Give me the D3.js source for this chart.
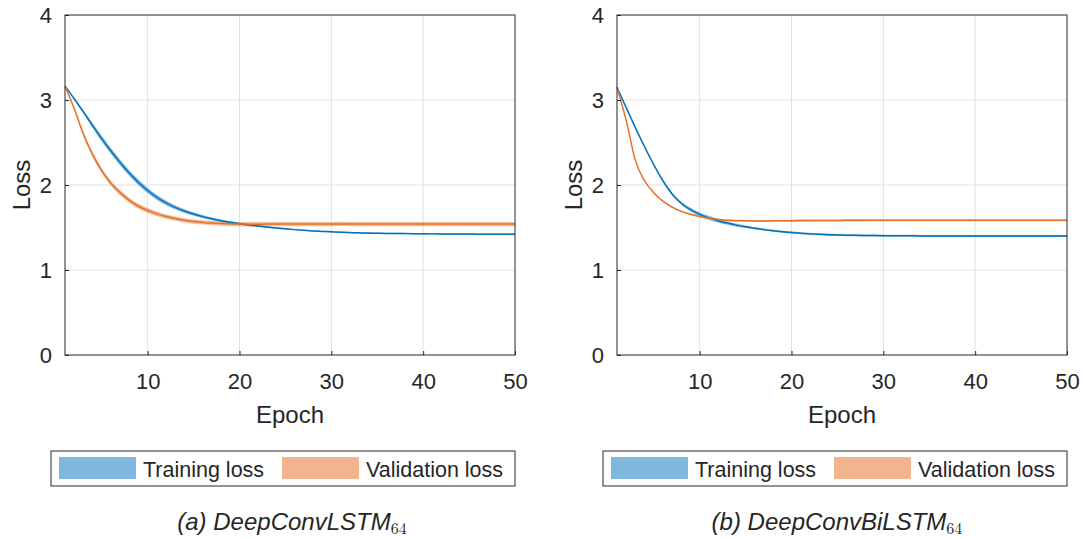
<!DOCTYPE html>
<html>
<head>
<meta charset="utf-8">
<script src="https://cdn.jsdelivr.net/npm/d3@7"></script>
<style>
  html, body { margin: 0; padding: 0; background: #fff; }
  svg { display: block; }
  text { font-family: "Liberation Sans", Arial, Helvetica, sans-serif; fill: #262626; }
</style>
</head>
<body>
<svg id="chart" width="1085" height="539"></svg>
<script>
// Loss curves (mean) and their spread, per epoch 1..50
const epochs = d3.range(1, 51);

const lstmTrain = [3.165, 3.015, 2.86, 2.70, 2.545, 2.40, 2.265, 2.14, 2.03, 1.935,
  1.855, 1.79, 1.737, 1.694, 1.658, 1.628, 1.602, 1.58, 1.561, 1.545,
  1.53, 1.517, 1.505, 1.494, 1.484, 1.475, 1.467, 1.46, 1.454, 1.449,
  1.444, 1.44, 1.437, 1.434, 1.432, 1.43, 1.429, 1.428, 1.427, 1.426,
  1.425, 1.424, 1.424, 1.423, 1.423, 1.422, 1.422, 1.421, 1.421, 1.420];
const lstmTrainSpread = [0.0, 0.01, 0.02, 0.03, 0.035, 0.035, 0.035, 0.035, 0.035, 0.032,
  0.03, 0.028, 0.025, 0.022, 0.02, 0.018, 0.016, 0.014, 0.012, 0.012,
  0.011, 0.01, 0.01, 0.009, 0.009, 0.008, 0.008, 0.008, 0.008, 0.008,
  0.008, 0.008, 0.008, 0.008, 0.008, 0.008, 0.008, 0.008, 0.008, 0.008,
  0.008, 0.008, 0.008, 0.008, 0.008, 0.008, 0.008, 0.008, 0.008, 0.008];
const lstmVal = [3.165, 2.90, 2.60, 2.36, 2.17, 2.02, 1.91, 1.82, 1.75, 1.70,
  1.66, 1.63, 1.605, 1.585, 1.57, 1.56, 1.552, 1.547, 1.543, 1.540,
  1.539, 1.539, 1.540, 1.540, 1.541, 1.541, 1.541, 1.540, 1.541, 1.541,
  1.542, 1.541, 1.541, 1.541, 1.540, 1.541, 1.541, 1.541, 1.541, 1.540,
  1.541, 1.541, 1.541, 1.540, 1.541, 1.541, 1.541, 1.541, 1.540, 1.541];
const lstmValSpread = [0.0, 0.015, 0.025, 0.03, 0.03, 0.03, 0.03, 0.03, 0.03, 0.028,
  0.027, 0.026, 0.025, 0.025, 0.025, 0.025, 0.025, 0.025, 0.025, 0.025,
  0.025, 0.025, 0.025, 0.025, 0.025, 0.025, 0.025, 0.025, 0.025, 0.025,
  0.025, 0.025, 0.025, 0.025, 0.025, 0.025, 0.025, 0.025, 0.025, 0.025,
  0.025, 0.025, 0.025, 0.025, 0.025, 0.025, 0.025, 0.025, 0.025, 0.025];

const bilstmTrain = [3.15, 2.91, 2.675, 2.45, 2.24, 2.05, 1.895, 1.785, 1.71, 1.655,
  1.613, 1.58, 1.552, 1.528, 1.508, 1.49, 1.475, 1.462, 1.45, 1.44,
  1.432, 1.425, 1.42, 1.416, 1.412, 1.41, 1.408, 1.406, 1.405, 1.404,
  1.403, 1.402, 1.402, 1.401, 1.401, 1.401, 1.401, 1.400, 1.400, 1.400,
  1.400, 1.400, 1.400, 1.401, 1.400, 1.400, 1.400, 1.400, 1.400, 1.400];
const bilstmTrainSpread = [0.0, 0.004, 0.006, 0.008, 0.01, 0.012, 0.015, 0.018, 0.022, 0.024,
  0.024, 0.022, 0.02, 0.018, 0.015, 0.013, 0.012, 0.012, 0.012, 0.012,
  0.012, 0.012, 0.012, 0.012, 0.012, 0.012, 0.012, 0.012, 0.012, 0.012,
  0.012, 0.012, 0.012, 0.012, 0.012, 0.012, 0.012, 0.012, 0.012, 0.012,
  0.012, 0.012, 0.012, 0.012, 0.012, 0.012, 0.012, 0.012, 0.012, 0.012];
const bilstmVal = [3.15, 2.76, 2.29, 2.05, 1.91, 1.81, 1.74, 1.69, 1.655, 1.63,
  1.61, 1.595, 1.585, 1.58, 1.578, 1.577, 1.577, 1.578, 1.579, 1.580,
  1.581, 1.581, 1.582, 1.583, 1.583, 1.584, 1.584, 1.584, 1.585, 1.585,
  1.585, 1.585, 1.585, 1.585, 1.585, 1.585, 1.585, 1.585, 1.585, 1.585,
  1.585, 1.585, 1.585, 1.585, 1.585, 1.585, 1.585, 1.585, 1.585, 1.585];
const bilstmValSpread = [0.0, 0.004, 0.005, 0.006, 0.006, 0.006, 0.007, 0.008, 0.008, 0.009,
  0.01, 0.01, 0.01, 0.01, 0.01, 0.01, 0.011, 0.011, 0.011, 0.012,
  0.012, 0.012, 0.012, 0.012, 0.012, 0.012, 0.012, 0.012, 0.012, 0.012,
  0.012, 0.012, 0.012, 0.012, 0.012, 0.012, 0.012, 0.012, 0.012, 0.012,
  0.012, 0.012, 0.012, 0.012, 0.012, 0.012, 0.012, 0.012, 0.012, 0.012];

const xTicks = [10, 20, 30, 40, 50];
const yTicks = [0, 1, 2, 3, 4];
const legendLabels = ["Training loss", "Validation loss"];
const captionLabels = ["(a) DeepConvLSTM", "(b) DeepConvBiLSTM"];
const captionSubscript = "64";

const colors = {
  train: "#0072BD",
  val: "#E57228",
  trainBand: "#0072BD",
  valBand: "#E66A1E"
};

const panels = [
  { left: 65, right: 515, train: lstmTrain, trainS: lstmTrainSpread, val: lstmVal, valS: lstmValSpread,
    caption: captionLabels[0], legendX: 51, captionX: 292 },
  { left: 617, right: 1067, train: bilstmTrain, trainS: bilstmTrainSpread, val: bilstmVal, valS: bilstmValSpread,
    caption: captionLabels[1], legendX: 603, captionX: 837 }
];

const svg = d3.select("#chart");
const plotTop = 15, plotBottom = 355;

panels.forEach(p => {
  const x = d3.scaleLinear().domain([1, 50]).range([p.left, p.right]);
  const y = d3.scaleLinear().domain([0, 4]).range([plotBottom, plotTop]);
  const g = svg.append("g");

  // grid
  g.append("g").selectAll("line").data(xTicks.filter(t => t < 50)).join("line")
    .attr("x1", d => x(d)).attr("x2", d => x(d))
    .attr("y1", plotTop).attr("y2", plotBottom)
    .attr("stroke", "#e0e0e0").attr("stroke-width", 1);
  g.append("g").selectAll("line").data(yTicks.filter(t => t > 0 && t < 4)).join("line")
    .attr("x1", p.left).attr("x2", p.right)
    .attr("y1", d => y(d)).attr("y2", d => y(d))
    .attr("stroke", "#e0e0e0").attr("stroke-width", 1);

  const rows = epochs.map((e, i) => ({ e, t: p.train[i], ts: p.trainS[i], v: p.val[i], vs: p.valS[i] }));

  const area = (m, s) => d3.area().x(d => x(d.e)).y0(d => y(d[m] - d[s])).y1(d => y(d[m] + d[s])).curve(d3.curveMonotoneX);
  const line = m => d3.line().x(d => x(d.e)).y(d => y(d[m])).curve(d3.curveMonotoneX);

  g.append("path").datum(rows).attr("d", area("t", "ts")).attr("fill", colors.trainBand).attr("fill-opacity", 0.45);
  g.append("path").datum(rows).attr("d", area("v", "vs")).attr("fill", colors.valBand).attr("fill-opacity", 0.45);
  g.append("path").datum(rows).attr("d", line("t")).attr("fill", "none").attr("stroke", colors.train).attr("stroke-width", 1.5);
  g.append("path").datum(rows).attr("d", line("v")).attr("fill", "none").attr("stroke", colors.val).attr("stroke-width", 1.5);

  // axes box
  g.append("rect").attr("x", p.left).attr("y", plotTop).attr("width", p.right - p.left).attr("height", plotBottom - plotTop)
    .attr("fill", "none").attr("stroke", "#262626").attr("stroke-width", 1);

  const xAxis = d3.axisBottom(x).tickValues(xTicks).tickFormat(d3.format("d"))
    .tickSizeInner(-4).tickSizeOuter(0).tickPadding(18);
  const ax = g.append("g").attr("transform", `translate(0,${plotBottom})`).call(xAxis);
  ax.select(".domain").remove();
  ax.selectAll(".tick line").attr("stroke", "#262626");
  ax.selectAll(".tick text").style("font-size", "22px").attr("fill", "#262626");
  ax.attr("font-family", null).attr("font-size", null);

  const yAxis = d3.axisLeft(y).tickValues(yTicks).tickFormat(d3.format("d"))
    .tickSizeInner(-4).tickSizeOuter(0).tickPadding(13);
  const ay = g.append("g").attr("transform", `translate(${p.left},0)`).call(yAxis);
  ay.select(".domain").remove();
  ay.selectAll(".tick line").attr("stroke", "#262626");
  ay.selectAll(".tick text").style("font-size", "22px").attr("fill", "#262626");
  ay.attr("font-family", null).attr("font-size", null);

  // axis titles
  g.append("text").attr("x", (p.left + p.right) / 2).attr("y", 423).attr("text-anchor", "middle")
    .style("font-size", "24px").text("Epoch");
  g.append("text").attr("transform", `translate(${p.left - 35},${(plotTop + plotBottom) / 2}) rotate(-90)`)
    .attr("text-anchor", "middle").style("font-size", "24px").text("Loss");

  // legend
  const lg = g.append("g").attr("transform", `translate(${p.legendX},451)`);
  lg.append("rect").attr("x", 0).attr("y", 0).attr("width", 464).attr("height", 35)
    .attr("fill", "#fff").attr("stroke", "#262626").attr("stroke-width", 1);
  const items = [
    { label: legendLabels[0], fill: colors.trainBand, px: 8, tx: 92 },
    { label: legendLabels[1], fill: colors.valBand, px: 231, tx: 315 }
  ];
  items.forEach(it => {
    lg.append("rect").attr("x", it.px).attr("y", 6).attr("width", 77).attr("height", 22)
      .attr("fill", it.fill).attr("fill-opacity", 0.5);
    lg.append("text").attr("x", it.tx).attr("y", 26).style("font-size", "21.5px").text(it.label);
  });

  // caption
  const cap = g.append("text").attr("x", p.captionX).attr("y", 530).attr("text-anchor", "middle")
    .style("font-size", "24px").style("font-style", "italic");
  cap.append("tspan").text(p.caption);
  cap.append("tspan").attr("dy", 4).style("font-style", "normal")
    .style("font-family", "'Latin Modern Roman', 'DejaVu Serif', 'Liberation Serif', serif")
    .style("font-size", "16px").text(captionSubscript);
});
</script>
</body>
</html>
